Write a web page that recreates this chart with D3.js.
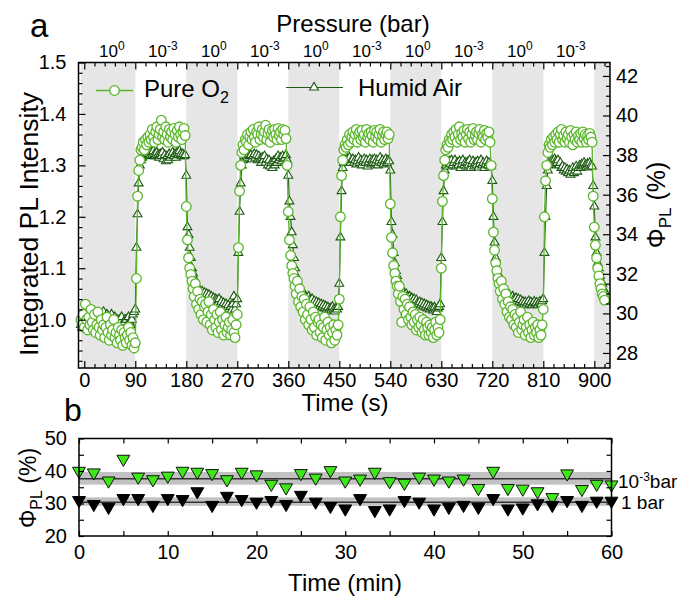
<!DOCTYPE html>
<html>
<head>
<meta charset="utf-8">
<script src="https://cdn.jsdelivr.net/npm/d3@7"></script>
<style>
  html, body { margin: 0; padding: 0; background: #fff; }
  svg { display: block; font-family: Arial, "Liberation Sans", Helvetica, sans-serif; }
</style>
</head>
<body>
<svg id="chart" width="688" height="596"></svg>
<script>
// ---------- Panel a: integrated PL intensity under pressure cycling ----------
// Samples every 2 s starting at t = -6 s
const sampleStart = -6;
const sampleStep = 2;

const pureO2 = [
  1.00, 0.99, 1.01, 0.985, 1.03, 1.00, 0.98, 1.005, 0.99, 1.02,
  0.995, 0.98, 1.01, 0.975, 0.99, 1.015, 0.985, 0.97, 1.00, 0.98,
  0.99, 0.965, 0.985, 1.005, 0.975, 0.96, 0.99, 0.97, 0.98, 1.00,
  0.965, 0.975, 0.955, 0.985, 0.97, 0.96, 0.98, 0.95, 0.975, 0.965,
  0.955, 0.97, 0.985, 0.96, 0.975, 0.95, 0.965, 0.945, 0.955, 1.08,
  1.24, 1.29, 1.31, 1.33, 1.335, 1.345, 1.33, 1.35, 1.34, 1.355,
  1.345, 1.36, 1.35, 1.37, 1.355, 1.345, 1.365, 1.375, 1.35, 1.36,
  1.37, 1.388, 1.355, 1.365, 1.35, 1.375, 1.36, 1.345, 1.37, 1.355,
  1.365, 1.35, 1.372, 1.36, 1.345, 1.368, 1.355, 1.375, 1.36, 1.35,
  1.365, 1.372, 1.358, 1.22, 1.155, 1.12, 1.10, 1.088, 1.075, 1.06,
  1.045, 1.07, 1.03, 1.055, 1.02, 1.04, 1.01, 1.035, 1.00, 1.025,
  1.03, 0.995, 1.015, 1.035, 0.99, 1.01, 0.98, 1.02, 1.00, 0.985,
  1.01, 0.975, 0.995, 1.015, 0.98, 1.00, 0.97, 0.99, 1.005, 0.975,
  0.985, 0.995, 0.97, 0.98, 1.00, 0.975, 0.965, 0.99, 1.01, 1.14,
  1.25, 1.30, 1.325, 1.34, 1.33, 1.35, 1.345, 1.36, 1.34, 1.355,
  1.365, 1.35, 1.37, 1.355, 1.345, 1.365, 1.36, 1.375, 1.35, 1.36,
  1.37, 1.355, 1.365, 1.378, 1.35, 1.362, 1.37, 1.345, 1.36, 1.368,
  1.355, 1.37, 1.36, 1.35, 1.372, 1.358, 1.365, 1.35, 1.37, 1.36,
  1.368, 1.352, 1.30, 1.21, 1.155, 1.125, 1.105, 1.09, 1.08, 1.065,
  1.05, 1.075, 1.035, 1.06, 1.025, 1.045, 1.015, 1.04, 1.00, 1.03,
  1.01, 0.99, 1.025, 1.00, 0.98, 1.015, 0.985, 1.005, 0.97, 0.995,
  1.00, 0.975, 0.99, 0.965, 0.985, 1.005, 0.96, 0.98, 0.995, 0.97,
  0.985, 0.955, 0.975, 0.99, 0.96, 0.98, 0.97, 0.99, 1.04, 1.20,
  1.28, 1.31, 1.33, 1.34, 1.335, 1.35, 1.34, 1.36, 1.345, 1.355,
  1.365, 1.35, 1.36, 1.37, 1.345, 1.36, 1.365, 1.35, 1.368, 1.355,
  1.36, 1.345, 1.37, 1.355, 1.362, 1.35, 1.365, 1.358, 1.345, 1.368,
  1.355, 1.365, 1.35, 1.36, 1.37, 1.345, 1.358, 1.365, 1.35, 1.36,
  1.365, 1.352, 1.36, 1.225, 1.16, 1.13, 1.105, 1.09, 1.075, 1.065,
  1.05, 1.065, 1.035, 0.995, 1.045, 1.02, 1.04, 1.01, 1.03, 1.00,
  1.025, 1.005, 0.99, 1.015, 0.995, 1.01, 0.98, 1.00, 0.985, 1.005,
  0.99, 0.975, 1.00, 0.98, 0.97, 0.995, 0.985, 0.97, 0.99, 0.975,
  0.985, 0.965, 0.98, 0.995, 0.97, 0.985, 0.975, 1.00, 1.10, 1.23,
  1.28, 1.31, 1.33, 1.34, 1.335, 1.35, 1.345, 1.36, 1.35, 1.365,
  1.355, 1.37, 1.345, 1.36, 1.375, 1.35, 1.362, 1.355, 1.368, 1.345,
  1.36, 1.37, 1.352, 1.365, 1.345, 1.36, 1.372, 1.35, 1.358, 1.365,
  1.35, 1.362, 1.37, 1.345, 1.36, 1.355, 1.368, 1.35, 1.362, 1.355,
  1.365, 1.345, 1.30, 1.235, 1.17, 1.135, 1.11, 1.095, 1.08, 1.07,
  1.055, 1.075, 1.04, 1.06, 1.03, 1.05, 1.015, 1.035, 1.005, 1.025,
  1.00, 1.02, 0.99, 1.01, 0.985, 1.005, 0.975, 0.995, 1.015, 0.98,
  0.99, 1.00, 0.97, 0.985, 1.005, 0.975, 0.99, 0.965, 0.98, 0.995,
  0.97, 0.985, 0.975, 0.99, 0.965, 0.98, 0.97, 0.99, 1.02, 1.20,
  1.27, 1.30, 1.325, 1.34, 1.335, 1.35, 1.34, 1.355, 1.345, 1.36,
  1.35, 1.365, 1.345, 1.36, 1.37, 1.35, 1.358, 1.345, 1.365, 1.352,
  1.36, 1.345, 1.368, 1.355, 1.34, 1.36, 1.35, 1.365, 1.345, 1.358,
  1.35, 1.362, 1.345, 1.365, 1.352, 1.36, 1.345, 1.358, 1.35, 1.362,
  1.355, 1.345, 1.24, 1.18, 1.145, 1.12, 1.10, 1.085, 1.07, 1.06,
  1.05, 1.045, 1.038
];

const humidAir = [
  0.99, 0.985, 1.00, 0.995, 1.005, 0.99, 1.00, 0.985, 0.995, 1.01,
  1.00, 0.99, 1.005, 0.995, 1.01, 1.00, 0.99, 1.005, 0.995, 1.00,
  1.015, 1.00, 0.995, 1.01, 1.005, 0.995, 1.00, 1.01, 0.99, 1.00,
  1.005, 0.995, 1.00, 0.99, 1.00, 0.995, 1.005, 0.99, 0.995, 1.00,
  1.00, 0.99, 1.005, 0.995, 0.99, 1.00, 1.01, 1.015, 1.02, 1.14,
  1.205, 1.265, 1.30, 1.31, 1.315, 1.32, 1.325, 1.32, 1.33, 1.322,
  1.325, 1.318, 1.326, 1.32, 1.328, 1.322, 1.318, 1.325, 1.32, 1.315,
  1.322, 1.318, 1.325, 1.312, 1.32, 1.308, 1.318, 1.31, 1.322, 1.315,
  1.32, 1.325, 1.318, 1.322, 1.315, 1.325, 1.32, 1.328, 1.322, 1.318,
  1.322, 1.318, 1.32, 1.28, 1.18, 1.165, 1.14, 1.12, 1.10, 1.09,
  1.08, 1.07, 1.065, 1.058, 1.06, 1.055, 1.05, 1.055, 1.048, 1.052,
  1.045, 1.05, 1.042, 1.048, 1.04, 1.045, 1.038, 1.042, 1.035, 1.04,
  1.038, 1.032, 1.04, 1.03, 1.035, 1.028, 1.032, 1.025, 1.03, 1.022,
  1.028, 1.02, 1.025, 1.018, 1.03, 1.045, 1.02, 1.03, 1.04, 1.13,
  1.21, 1.265, 1.30, 1.31, 1.318, 1.312, 1.32, 1.315, 1.322, 1.318,
  1.32, 1.312, 1.318, 1.322, 1.315, 1.32, 1.31, 1.318, 1.312, 1.305,
  1.315, 1.31, 1.318, 1.305, 1.312, 1.30, 1.31, 1.298, 1.305, 1.295,
  1.308, 1.30, 1.312, 1.305, 1.318, 1.31, 1.315, 1.308, 1.318, 1.312,
  1.315, 1.32, 1.31, 1.28, 1.23, 1.20, 1.17, 1.145, 1.12, 1.10,
  1.085, 1.075, 1.068, 1.06, 1.055, 1.052, 1.048, 1.05, 1.045, 1.042,
  1.04, 1.045, 1.038, 1.035, 1.04, 1.032, 1.036, 1.03, 1.034, 1.028,
  1.032, 1.026, 1.03, 1.024, 1.028, 1.022, 1.026, 1.02, 1.024, 1.018,
  1.022, 1.018, 1.025, 1.02, 1.016, 1.022, 1.02, 1.025, 1.07, 1.16,
  1.25, 1.295, 1.305, 1.31, 1.305, 1.312, 1.308, 1.315, 1.305, 1.31,
  1.312, 1.305, 1.31, 1.302, 1.308, 1.315, 1.305, 1.31, 1.30, 1.308,
  1.312, 1.305, 1.31, 1.298, 1.306, 1.312, 1.302, 1.31, 1.305, 1.312,
  1.305, 1.31, 1.30, 1.308, 1.315, 1.305, 1.31, 1.302, 1.308, 1.312,
  1.305, 1.31, 1.308, 1.29, 1.19, 1.165, 1.13, 1.11, 1.095, 1.085,
  1.075, 1.068, 1.062, 1.058, 1.055, 1.052, 1.048, 1.05, 1.045, 1.042,
  1.045, 1.04, 1.042, 1.036, 1.04, 1.034, 1.038, 1.032, 1.03, 1.034,
  1.028, 1.032, 1.026, 1.03, 1.024, 1.028, 1.022, 1.026, 1.02, 1.025,
  1.022, 1.018, 1.024, 1.02, 1.015, 1.022, 1.025, 1.03, 1.12, 1.19,
  1.25, 1.29, 1.30, 1.305, 1.298, 1.308, 1.302, 1.31, 1.30, 1.305,
  1.31, 1.298, 1.305, 1.30, 1.308, 1.295, 1.302, 1.31, 1.30, 1.305,
  1.298, 1.306, 1.30, 1.31, 1.295, 1.303, 1.308, 1.298, 1.305, 1.30,
  1.308, 1.296, 1.303, 1.31, 1.30, 1.305, 1.295, 1.302, 1.308, 1.30,
  1.305, 1.298, 1.30, 1.27, 1.20, 1.15, 1.12, 1.10, 1.09, 1.082,
  1.075, 1.07, 1.065, 1.06, 1.058, 1.052, 1.05, 1.046, 1.048, 1.044,
  1.042, 1.045, 1.04, 1.038, 1.042, 1.036, 1.04, 1.034, 1.038, 1.032,
  1.035, 1.03, 1.034, 1.028, 1.032, 1.036, 1.03, 1.034, 1.028, 1.032,
  1.035, 1.03, 1.033, 1.028, 1.032, 1.035, 1.03, 1.036, 1.04, 1.13,
  1.20, 1.26, 1.29, 1.30, 1.308, 1.302, 1.31, 1.305, 1.312, 1.308,
  1.305, 1.31, 1.30, 1.305, 1.295, 1.298, 1.29, 1.295, 1.288, 1.292,
  1.285, 1.29, 1.282, 1.288, 1.295, 1.285, 1.29, 1.298, 1.288, 1.295,
  1.30, 1.295, 1.302, 1.298, 1.305, 1.30, 1.296, 1.303, 1.298, 1.305,
  1.30, 1.298, 1.26, 1.22, 1.16, 1.13, 1.11, 1.10, 1.085, 1.075,
  1.07, 1.06, 1.055
];

// Pressure schedule: 1 bar windows (shaded) alternate with 10^-3 bar windows
const oneBarWindows = [[-6, 90], [180, 270], [360, 450], [540, 630], [720, 810], [900, 940]];
const pressureLabelTimes = [45, 135, 225, 315, 405, 495, 585, 675, 765, 855];
const pressureLabelExps  = ["0", "-3", "0", "-3", "0", "-3", "0", "-3", "0", "-3"];

const timeTicks = [0, 90, 180, 270, 360, 450, 540, 630, 720, 810, 900];
const intensityTicks = [1.0, 1.1, 1.2, 1.3, 1.4, 1.5];
const plqyTicks = [28, 30, 32, 34, 36, 38, 40, 42];

// ---------- Panel b: long-term PLQY at the two pressures ----------
const stabilityMinutes = [0, 1.67, 3.33, 5, 6.67, 8.33, 10, 11.67, 13.33, 15, 16.67, 18.33,
  20, 21.67, 23.33, 25, 26.67, 28.33, 30, 31.67, 33.33, 35, 36.67, 38.33, 40, 41.67,
  43.33, 45, 46.67, 48.33, 50, 51.67, 53.33, 55, 56.67, 58.33, 60];
const plqyVacuum = [40.0, 39.5, 37.0, 43.7, 38.2, 37.4, 38.5, 40.0, 39.7, 39.3, 37.4, 39.7,
  38.9, 36.0, 34.9, 39.3, 37.9, 40.2, 37.0, 37.6, 39.7, 36.8, 36.3, 38.2, 37.6, 37.0,
  37.6, 34.7, 40.0, 34.7, 34.5, 33.7, 31.9, 39.2, 34.4, 36.0, 35.8];
const plqyOneBar = [31.0, 29.8, 28.9, 31.6, 31.6, 29.5, 31.6, 31.3, 33.7, 29.5, 32.3, 31.3,
  30.5, 31.0, 29.8, 32.6, 30.5, 29.2, 28.4, 31.6, 27.9, 28.4, 31.0, 30.5, 28.4, 28.9,
  29.5, 28.9, 31.6, 28.4, 28.7, 30.0, 29.5, 31.0, 29.5, 30.8, 30.8];
// mean and spread bands for each pressure
const vacuumBand = {mean: 37.6, low: 35.8, high: 39.7};
const oneBarBand = {mean: 30.4, low: 29.3, high: 31.9};
const minuteTicks = [0, 10, 20, 30, 40, 50, 60];
const plqyTicksB = [20, 30, 40, 50];

// ---------- styles ----------
const O2_COLOR = "#5bb62c";
const HUMID_COLOR = "#1b5a10";
const BAND_COLOR = "#e6e6e6";

const svg = d3.select("#chart");

// ===== Panel a =====
const A = {left: 78.5, right: 610, top: 62.5, bottom: 368};
const x = d3.scaleLinear().domain([-10.2, 927.7]).range([A.left, A.right]);
const y = d3.scaleLinear().domain([0.906, 1.5]).range([A.bottom, A.top]);
const yR = d3.scaleLinear().domain([27.24, 42.68]).range([A.bottom, A.top]);

svg.append("clipPath").attr("id", "clipA")
  .append("rect").attr("x", A.left).attr("y", A.top)
  .attr("width", A.right - A.left).attr("height", A.bottom - A.top);

const gA = svg.append("g");
gA.append("g").attr("clip-path", "url(#clipA)")
  .selectAll("rect").data(oneBarWindows).join("rect")
  .attr("x", d => x(d[0])).attr("width", d => x(d[1]) - x(d[0]))
  .attr("y", A.top).attr("height", A.bottom - A.top)
  .attr("fill", BAND_COLOR);

const times = pureO2.map((_, i) => sampleStart + i * sampleStep);
const o2Pts = pureO2.map((v, i) => [times[i], v]);
const humidPts = humidAir.map((v, i) => [times[i], v]);
const line = d3.line().x(d => x(d[0])).y(d => y(d[1]));
const triSmall = d3.symbol(d3.symbolTriangle, 34);

// humid air underneath, pure O2 on top
gA.append("path").datum(humidPts).attr("d", line)
  .attr("fill", "none").attr("stroke", HUMID_COLOR).attr("stroke-width", 1.1);
gA.append("g").selectAll("path").data(humidPts).join("path")
  .attr("d", triSmall)
  .attr("transform", d => `translate(${x(d[0])},${y(d[1])})`)
  .attr("fill", "#fff").attr("stroke", HUMID_COLOR).attr("stroke-width", 1.1);

gA.append("path").datum(o2Pts).attr("d", line)
  .attr("fill", "none").attr("stroke", O2_COLOR).attr("stroke-width", 1.3);
gA.append("g").selectAll("circle").data(o2Pts).join("circle")
  .attr("cx", d => x(d[0])).attr("cy", d => y(d[1])).attr("r", 4.8)
  .attr("fill", "#fff").attr("stroke", O2_COLOR).attr("stroke-width", 1.3);

// frame
gA.append("rect").attr("x", A.left).attr("y", A.top)
  .attr("width", A.right - A.left).attr("height", A.bottom - A.top)
  .attr("fill", "none").attr("stroke", "#000").attr("stroke-width", 1.5);

const minorTime = d3.range(0, 928, 18).filter(t => t % 90 !== 0);
const minorInt = d3.range(46, 76).filter(k => k % 5 !== 0).map(k => k / 50);
const minorPlqy = d3.range(55, 86).filter(k => k % 4 !== 0).map(k => k / 2);

function styleAxis(g, fontSize) {
  g.select(".domain").remove();
  g.selectAll("line").attr("stroke", "#000").attr("stroke-width", 1.2);
  g.selectAll("text").attr("font-size", fontSize).attr("fill", "#000")
    .attr("font-family", "Arial, 'Liberation Sans', sans-serif");
}

// bottom
gA.append("g").attr("transform", `translate(0,${A.bottom})`)
  .call(d3.axisBottom(x).tickValues(timeTicks).tickSize(-7).tickPadding(5).tickFormat(d3.format("d")))
  .call(g => styleAxis(g, 20));
gA.append("g").attr("transform", `translate(0,${A.bottom})`)
  .call(d3.axisBottom(x).tickValues(minorTime).tickSize(-4).tickFormat(""))
  .call(g => styleAxis(g, 0));
// top
gA.append("g").attr("transform", `translate(0,${A.top})`)
  .call(d3.axisTop(x).tickValues(timeTicks).tickSize(-7).tickFormat(""))
  .call(g => styleAxis(g, 0));
gA.append("g").attr("transform", `translate(0,${A.top})`)
  .call(d3.axisTop(x).tickValues(minorTime).tickSize(-4).tickFormat(""))
  .call(g => styleAxis(g, 0));
// left
gA.append("g").attr("transform", `translate(${A.left},0)`)
  .call(d3.axisLeft(y).tickValues(intensityTicks).tickSize(-7).tickPadding(12).tickFormat(d3.format(".1f")))
  .call(g => styleAxis(g, 20));
gA.append("g").attr("transform", `translate(${A.left},0)`)
  .call(d3.axisLeft(y).tickValues(minorInt).tickSize(-4).tickFormat(""))
  .call(g => styleAxis(g, 0));
// right
gA.append("g").attr("transform", `translate(${A.right},0)`)
  .call(d3.axisRight(yR).tickValues(plqyTicks).tickSize(-7).tickPadding(6).tickFormat(d3.format("d")))
  .call(g => styleAxis(g, 20));
gA.append("g").attr("transform", `translate(${A.right},0)`)
  .call(d3.axisRight(yR).tickValues(minorPlqy).tickSize(-4).tickFormat(""))
  .call(g => styleAxis(g, 0));

// pressure labels on the top axis
const pl = gA.append("g").selectAll("text").data(pressureLabelTimes).join("text")
  .attr("x", d => x(d) + 2).attr("y", 56.5)
  .attr("text-anchor", "middle").attr("font-size", 17);
pl.append("tspan").text("10");
pl.append("tspan").attr("dy", -7).attr("font-size", 12).text((d, i) => pressureLabelExps[i]);

// titles
svg.append("text").attr("x", 30).attr("y", 37).attr("font-size", 33).text("a");
svg.append("text").attr("x", 353).attr("y", 31.5).attr("text-anchor", "middle")
  .attr("font-size", 24).text("Pressure (bar)");
svg.append("text").attr("transform", "translate(38,224) rotate(-90)")
  .attr("text-anchor", "middle").attr("font-size", 26.5).text("Integrated PL Intensity");
svg.append("text").attr("x", 345).attr("y", 411).attr("text-anchor", "middle")
  .attr("font-size", 24).text("Time (s)");
const rt = svg.append("text").attr("transform", "translate(665,205) rotate(-90)")
  .attr("text-anchor", "middle").attr("font-size", 25);
rt.append("tspan").text("\u03A6");
rt.append("tspan").attr("dy", 6).attr("font-size", 17).text("PL");
rt.append("tspan").attr("dy", -6).text(" (%)");

// legend
const lg = svg.append("g");
lg.append("line").attr("x1", 96).attr("x2", 133).attr("y1", 90.5).attr("y2", 90.5)
  .attr("stroke", O2_COLOR).attr("stroke-width", 1.3);
lg.append("circle").attr("cx", 114.5).attr("cy", 90.5).attr("r", 4.8)
  .attr("fill", "#fff").attr("stroke", O2_COLOR).attr("stroke-width", 1.3);
const lt1 = lg.append("text").attr("x", 144).attr("y", 97).attr("font-size", 24);
lt1.append("tspan").text("Pure O");
lt1.append("tspan").attr("dy", 6).attr("font-size", 16).text("2");
lg.append("line").attr("x1", 286).attr("x2", 343).attr("y1", 87.5).attr("y2", 87.5)
  .attr("stroke", HUMID_COLOR).attr("stroke-width", 1.2);
lg.append("path").attr("d", triSmall).attr("transform", "translate(314,87.5)")
  .attr("fill", "#fff").attr("stroke", HUMID_COLOR).attr("stroke-width", 1.1);
lg.append("text").attr("x", 358).attr("y", 95.5).attr("font-size", 24).text("Humid Air");

// ===== Panel b =====
const B = {left: 79, right: 611.5, top: 438.5, bottom: 536};
const xb = d3.scaleLinear().domain([0, 60]).range([B.left, B.right]);
const yb = d3.scaleLinear().domain([20, 50]).range([B.bottom, B.top]);
const gB = svg.append("g");

[vacuumBand, oneBarBand].forEach(b => {
  gB.append("rect").attr("x", B.left).attr("width", B.right - B.left)
    .attr("y", yb(b.high)).attr("height", yb(b.low) - yb(b.high))
    .attr("fill", "#c2c2c2");
  gB.append("line").attr("x1", B.left).attr("x2", B.right)
    .attr("y1", yb(b.mean)).attr("y2", yb(b.mean))
    .attr("stroke", "#333").attr("stroke-width", 1.5);
});

const triDown = d3.symbol(d3.symbolTriangle, 72);
gB.append("g").selectAll("path").data(plqyVacuum).join("path")
  .attr("d", triDown)
  .attr("transform", (d, i) => `translate(${xb(stabilityMinutes[i])},${yb(d)}) rotate(180)`)
  .attr("fill", "#3ee61a").attr("stroke", "#111").attr("stroke-width", 1);
gB.append("g").selectAll("path").data(plqyOneBar).join("path")
  .attr("d", triDown)
  .attr("transform", (d, i) => `translate(${xb(stabilityMinutes[i])},${yb(d)}) rotate(180)`)
  .attr("fill", "#000").attr("stroke", "#000").attr("stroke-width", 1);

gB.append("rect").attr("x", B.left).attr("y", B.top)
  .attr("width", B.right - B.left).attr("height", B.bottom - B.top)
  .attr("fill", "none").attr("stroke", "#000").attr("stroke-width", 1.5);

const minuteAll = d3.range(0, 61, 5);
const plqyAllB = d3.range(20, 51, 5);
gB.append("g").attr("transform", `translate(0,${B.bottom})`)
  .call(d3.axisBottom(xb).tickValues(minuteAll).tickSize(-5).tickPadding(9)
    .tickFormat(d => minuteTicks.includes(d) ? d : ""))
  .call(g => styleAxis(g, 20));
gB.append("g").attr("transform", `translate(0,${B.top})`)
  .call(d3.axisTop(xb).tickValues(minuteAll).tickSize(-5).tickFormat(""))
  .call(g => styleAxis(g, 0));
gB.append("g").attr("transform", `translate(${B.left},0)`)
  .call(d3.axisLeft(yb).tickValues(plqyAllB).tickSize(-5).tickPadding(12)
    .tickFormat(d => plqyTicksB.includes(d) ? d : ""))
  .call(g => styleAxis(g, 20));
gB.append("g").attr("transform", `translate(${B.right},0)`)
  .call(d3.axisRight(yb).tickValues(plqyAllB).tickSize(-5).tickFormat(""))
  .call(g => styleAxis(g, 0));

svg.append("text").attr("x", 64).attr("y", 421).attr("font-size", 32).text("b");
const bt = svg.append("text").attr("transform", "translate(36,488) rotate(-90)")
  .attr("text-anchor", "middle").attr("font-size", 23);
bt.append("tspan").text("\u03A6");
bt.append("tspan").attr("dy", 6).attr("font-size", 16).text("PL");
bt.append("tspan").attr("dy", -6).text(" (%)");
svg.append("text").attr("x", 345).attr("y", 591).attr("text-anchor", "middle")
  .attr("font-size", 24).text("Time (min)");

const rl1 = svg.append("text").attr("x", 618).attr("y", 488).attr("font-size", 19);
rl1.append("tspan").text("10");
rl1.append("tspan").attr("dy", -7).attr("font-size", 12).text("-3");
rl1.append("tspan").attr("dy", 7).text("bar");
svg.append("text").attr("x", 621).attr("y", 509).attr("font-size", 19).text("1 bar");
</script>
</body>
</html>
